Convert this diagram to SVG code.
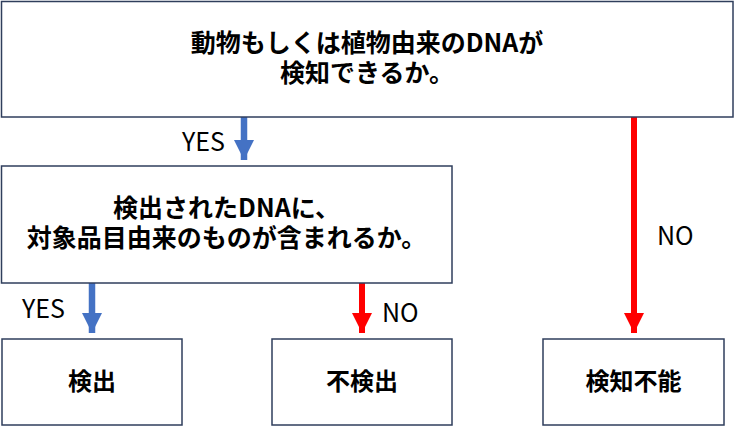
<svg xmlns="http://www.w3.org/2000/svg" width="735" height="426" viewBox="0 0 735 426">
<defs>
<style>
.box{fill:#ffffff;stroke:#2F3E5C;stroke-width:1.5}
.t{font-family:"Noto Sans CJK JP","Noto Sans",sans-serif;font-weight:700;font-size:25px;fill:#000;text-anchor:middle}
.tb{font-family:"Noto Sans CJK JP","Noto Sans",sans-serif;font-weight:700;font-size:24px;fill:#000;text-anchor:middle}
.lbl{font-family:"Noto Sans CJK JP","Noto Sans",sans-serif;font-weight:400;font-size:25px;fill:#000}
.blue{stroke:#4472C4;stroke-width:6.5;fill:none}
.red{stroke:#FF0000;stroke-width:6;fill:none}
</style>
<marker id="ab" markerUnits="userSpaceOnUse" markerWidth="20" markerHeight="20" viewBox="0 0 18 18" refX="18" refY="9" orient="auto">
<path d="M0,0 L18,9 L0,18 Z" fill="#4472C4"/>
</marker>
<marker id="ar" markerUnits="userSpaceOnUse" markerWidth="20" markerHeight="20" viewBox="0 0 18 18" refX="18" refY="9" orient="auto">
<path d="M0,0 L18,9 L0,18 Z" fill="#FF0000"/>
</marker>
</defs>
<rect width="735" height="426" fill="#ffffff"/>
<g id="connectors">
<path class="blue" d="M244,117 L244,160" marker-end="url(#ab)"/>
<path class="blue" d="M92,283 L92,333" marker-end="url(#ab)"/>
<path class="red" d="M362,283 L362,333" marker-end="url(#ar)"/>
<path class="red" d="M634,117 L634,333" marker-end="url(#ar)"/>
<text class="lbl" x="182" y="151">YES</text>
<text class="lbl" x="22" y="318">YES</text>
<text class="lbl" x="382" y="322">NO</text>
<text class="lbl" x="657" y="245">NO</text>
</g>
<g id="q1">
<rect class="box" x="1.5" y="1.5" width="731.5" height="115.5"/>
<text class="t" x="367" y="51.5">動物もしくは植物由来のDNAが</text>
<text class="t" x="367" y="81.5">検知できるか。</text>
</g>
<g id="q2">
<rect class="box" x="1.5" y="166" width="450.5" height="117"/>
<text class="t" x="226.5" y="216.5">検出されたDNAに、</text>
<text class="t" x="226.5" y="246.5">対象品目由来のものが含まれるか。</text>
</g>
<g id="detected">
<rect class="box" x="2" y="339" width="180" height="86"/>
<text class="tb" x="92" y="390">検出</text>
</g>
<g id="notdetected">
<rect class="box" x="272" y="339" width="180" height="86"/>
<text class="tb" x="362" y="390">不検出</text>
</g>
<g id="undetectable">
<rect class="box" x="543" y="339" width="181" height="86"/>
<text class="tb" x="633.5" y="390">検知不能</text>
</g>
</svg>
